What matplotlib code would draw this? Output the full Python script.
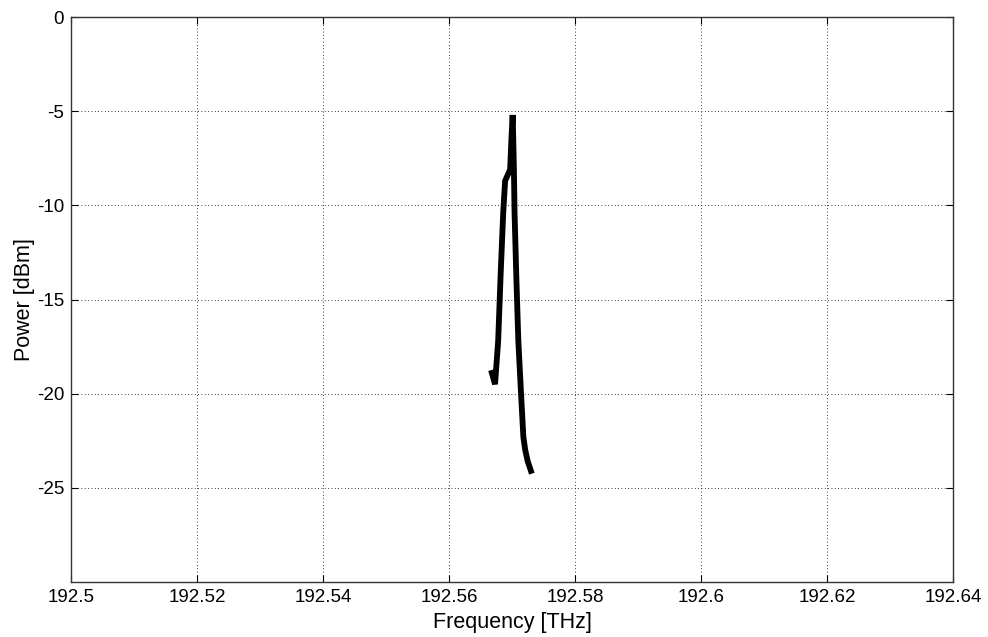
import matplotlib
matplotlib.use("Agg")
import matplotlib.pyplot as plt

freq = [192.5668, 192.5673, 192.5678, 192.5682, 192.5686, 192.5689, 192.5693,
        192.5697, 192.5699, 192.5701, 192.5702, 192.5703, 192.5704, 192.5707,
        192.5710, 192.5714, 192.5718, 192.5721, 192.5725, 192.5730]
power = [-18.9, -19.5, -17.2, -13.6, -10.4, -8.7, -8.4, -8.1, -6.5, -5.2,
         -6.6, -8.1, -10.4, -14.0, -17.2, -19.8, -22.3, -23.0, -23.6, -24.1]

xticks = [192.5, 192.52, 192.54, 192.56, 192.58, 192.6, 192.62, 192.64]
xticklabels = ["192.5", "192.52", "192.54", "192.56", "192.58", "192.6", "192.62", "192.64"]
yticks = [0, -5, -10, -15, -20, -25]
yticklabels = ["0", "-5", "-10", "-15", "-20", "-25"]

plt.rcParams['font.family'] = ['Liberation Sans', 'DejaVu Sans']

fig = plt.figure(figsize=(9.88, 6.37), dpi=100)
ax = fig.add_axes([0.0719, 0.0863, 0.8927, 0.887])
ax.plot(freq, power, color='black', linewidth=4.2, solid_joinstyle='miter')
ax.set_xlim(192.5, 192.64)
ax.set_ylim(-30, 0)
ax.set_xticks(xticks)
ax.set_xticklabels(xticklabels)
ax.set_yticks(yticks)
ax.set_yticklabels(yticklabels)
ax.grid(True, linestyle=(0, (1, 3)), color='black', linewidth=0.6)
ax.tick_params(direction='in', length=5, labelsize=13.5, top=True, right=True, pad=5)
for s in ax.spines.values():
    s.set_linewidth(1.0)
    s.set_color('#333333')
ax.set_xlabel('Frequency [THz]', fontsize=15.5, labelpad=4)
ax.set_ylabel('Power [dBm]', fontsize=15.5, labelpad=1)
fig.savefig('out.png', dpi=100)
